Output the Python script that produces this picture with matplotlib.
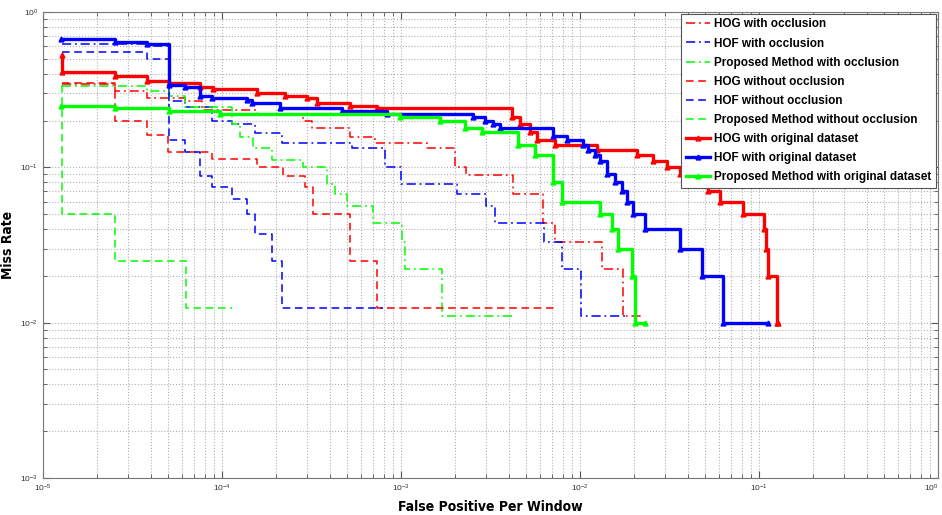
import matplotlib
matplotlib.use('Agg')
import matplotlib.pyplot as plt
from matplotlib.ticker import LogLocator, LogFormatterSciNotation, NullFormatter

plt.rcParams['font.family'] = ['Liberation Sans', 'DejaVu Sans']

# ─────────────────────────────────────────────
# Data (FPPW, miss rate)
# ─────────────────────────────────────────────

hog_occ_x = [1.28e-5, 2.52e-5, 3.81e-5, 6.21e-5, 7.73e-5, 1.57e-4, 2.84e-4, 3.18e-4, 5.19e-4,
             7.16e-4, 1.40e-3, 2.0e-3, 2.3e-3, 4.23e-3, 6.21e-3, 7.24e-3, 1.33e-2, 1.74e-2, 2.25e-2]
hog_occ_y = [0.344, 0.311, 0.278, 0.267, 0.233, 0.222, 0.2, 0.178, 0.156,
             0.144, 0.133, 0.1, 0.089, 0.067, 0.044, 0.033, 0.022, 0.011, 0.011]

hof_occ_x = [1.28e-5, 3.81e-5, 5.06e-5, 6.21e-5, 8.79e-5, 1.14e-4, 1.53e-4, 2.16e-4, 5.32e-4,
             8.14e-4, 1.0e-3, 2.06e-3, 2.99e-3, 3.35e-3, 6.29e-3, 7.94e-3, 1.01e-2, 1.78e-2]
hof_occ_y = [0.622, 0.6, 0.267, 0.244, 0.2, 0.189, 0.167, 0.144, 0.133,
             0.1, 0.078, 0.067, 0.056, 0.044, 0.033, 0.022, 0.011, 0.011]

prop_occ_x = [1.28e-5, 3.81e-5, 5.06e-5, 6.21e-5, 1.14e-4, 1.26e-4, 1.49e-4, 1.90e-4, 2.84e-4,
              3.86e-4, 4.27e-4, 4.99e-4, 6.98e-4, 1.01e-3, 1.05e-3, 1.70e-3, 4.17e-3]
prop_occ_y = [0.333, 0.311, 0.289, 0.244, 0.189, 0.156, 0.133, 0.111, 0.1,
              0.078, 0.067, 0.056, 0.044, 0.033, 0.022, 0.011, 0.011]

hog_x = [1.28e-5, 2.52e-5, 3.81e-5, 4.98e-5, 8.79e-5, 1.57e-4, 2.19e-4, 2.91e-4, 3.22e-4,
         5.19e-4, 7.34e-4, 7.54e-3]
hog_y = [0.35, 0.2, 0.1625, 0.125, 0.1125, 0.1, 0.0875, 0.075, 0.05, 0.025, 0.0125, 0.0125]

hof_x = [1.28e-5, 3.81e-5, 5.06e-5, 6.21e-5, 7.54e-5, 8.79e-5, 1.14e-4, 1.38e-4, 1.53e-4,
         1.90e-4, 2.16e-4, 7.93e-4]
hof_y = [0.55, 0.5, 0.15, 0.125, 0.0875, 0.075, 0.0625, 0.05, 0.0375, 0.025, 0.0125, 0.0125]

prop_x = [1.28e-5, 1.28e-5, 2.52e-5, 6.29e-5, 1.14e-4]
prop_y = [0.3375, 0.05, 0.025, 0.0125, 0.0125]

hog_orig_x = [1.28e-5, 1.28e-5, 2.52e-5, 3.81e-5, 5.06e-5, 7.54e-5, 8.9e-5, 1.57e-4, 2.25e-4,
              2.98e-4, 3.39e-4, 5.19e-4, 7.34e-4, 4.17e-3, 4.62e-3, 5.26e-3, 5.75e-3, 7.24e-3,
              1.24e-2, 2.08e-2, 2.56e-2, 3.06e-2, 3.62e-2, 4.23e-2, 5.19e-2, 6.05e-2, 8.14e-2,
              0.107, 0.109, 0.112, 0.126, 0.128]
hog_orig_y = [0.53, 0.41, 0.39, 0.36, 0.35, 0.33, 0.32, 0.30, 0.29,
              0.28, 0.26, 0.25, 0.24, 0.21, 0.19, 0.17, 0.15, 0.14,
              0.13, 0.12, 0.11, 0.10, 0.09, 0.08, 0.07, 0.06, 0.05,
              0.04, 0.03, 0.02, 0.01, 0.01]

hof_orig_x = [1.26e-5, 2.52e-5, 3.81e-5, 5.06e-5, 6.21e-5, 7.54e-5, 8.79e-5, 1.38e-4, 1.47e-4,
              2.11e-4, 4.68e-4, 8.4e-4, 2.52e-3, 2.95e-3, 3.27e-3, 3.57e-3, 7.06e-3, 8.46e-3,
              1.04e-2, 1.11e-2, 1.21e-2, 1.29e-2, 1.42e-2, 1.57e-2, 1.72e-2, 1.83e-2, 1.98e-2,
              2.31e-2, 3.62e-2, 4.81e-2, 6.29e-2, 0.112]
hof_orig_y = [0.67, 0.64, 0.62, 0.34, 0.33, 0.29, 0.28, 0.27, 0.26,
              0.24, 0.23, 0.22, 0.21, 0.20, 0.19, 0.18, 0.16, 0.15,
              0.14, 0.13, 0.12, 0.11, 0.09, 0.08, 0.07, 0.06, 0.05,
              0.04, 0.03, 0.02, 0.01, 0.01]

prop_orig_x = [1.26e-5, 2.52e-5, 5.06e-5, 9.75e-5, 9.87e-4, 1.65e-3, 2.28e-3, 2.84e-3, 4.51e-3,
               5.61e-3, 7.06e-3, 7.94e-3, 1.29e-2, 1.51e-2, 1.63e-2, 1.96e-2, 2.03e-2, 2.31e-2]
prop_orig_y = [0.25, 0.24, 0.23, 0.22, 0.21, 0.20, 0.18, 0.17, 0.14,
               0.12, 0.08, 0.06, 0.05, 0.04, 0.03, 0.02, 0.01, 0.01]

# ─────────────────────────────────────────────
# Plot
# ─────────────────────────────────────────────

RED, BLUE, GREEN = '#ff0000', '#0000ff', '#00ff00'
DASH = (0, (5, 3))
DASHDOT = (0, (6, 2.5, 1.2, 2.5))

fig = plt.figure(figsize=(9.42, 5.15), dpi=100)
ax = fig.add_axes([0.0456, 0.0718, 0.9502, 0.9049])

thin = [
    (hog_occ_x, hog_occ_y, RED, DASHDOT, "HOG with occlusion"),
    (hof_occ_x, hof_occ_y, BLUE, DASHDOT, "HOF with occlusion"),
    (prop_occ_x, prop_occ_y, GREEN, DASHDOT, "Proposed Method with occlusion"),
    (hog_x, hog_y, RED, DASH, "HOG without occlusion"),
    (hof_x, hof_y, BLUE, DASH, "HOF without occlusion"),
    (prop_x, prop_y, GREEN, DASH, "Proposed Method without occlusion"),
]
for xs, ys, c, ls, lab in thin:
    ax.plot(xs, ys, drawstyle='steps-post', color=c, linestyle=ls, linewidth=1.1, label=lab)

thick = [
    (hog_orig_x, hog_orig_y, RED, "HOG with original dataset"),
    (hof_orig_x, hof_orig_y, BLUE, "HOF with original dataset"),
    (prop_orig_x, prop_orig_y, GREEN, "Proposed Method with original dataset"),
]
for xs, ys, c, lab in thick:
    ax.plot(xs, ys, drawstyle='steps-post', color=c, linewidth=2.4, marker='^',
            markersize=3.5, label=lab)

ax.set_xscale('log')
ax.set_yscale('log')
ax.set_xlim(1e-5, 1)
ax.set_ylim(1e-3, 1)

for axis in (ax.xaxis, ax.yaxis):
    axis.set_major_locator(LogLocator(base=10, numticks=10))
    axis.set_minor_locator(LogLocator(base=10, subs=range(2, 10), numticks=100))
    axis.set_major_formatter(LogFormatterSciNotation())
    axis.set_minor_formatter(NullFormatter())

ax.grid(True, which='both', linestyle=':', color='#b0b0b0', linewidth=0.8)
ax.tick_params(which='both', direction='in', top=True, right=True, colors='#555555',
               labelsize=6, labelcolor='#333333')
ax.tick_params(which='major', length=5)
ax.tick_params(which='minor', length=3)
for s in ax.spines.values():
    s.set_color('#777777')

# keep the 10^0 label inside the canvas
fig.canvas.draw()
for t in ax.xaxis.get_major_ticks():
    if abs(t.get_loc() - 1.0) < 1e-9:
        t.label1.set_horizontalalignment('right')

ax.set_xlabel("False Positive Per Window", fontsize=10, fontweight='bold',
              family='DejaVu Sans', fontstretch='condensed', labelpad=4)
ax.set_ylabel("Miss Rate", fontsize=10, fontweight='bold',
              family='DejaVu Sans', fontstretch='condensed')
ax.yaxis.set_label_coords(-0.031, 0.5)

leg = ax.legend(loc='upper right', bbox_to_anchor=(1.0, 1.0), borderaxespad=0.15,
                prop={'weight': 'bold', 'size': 8.5}, handlelength=2.0, handletextpad=0.4,
                labelspacing=0.6, borderpad=0.4, fancybox=False, framealpha=1,
                edgecolor='#555555')
leg.get_frame().set_linewidth(0.8)

plt.savefig("out.png", dpi=100)
